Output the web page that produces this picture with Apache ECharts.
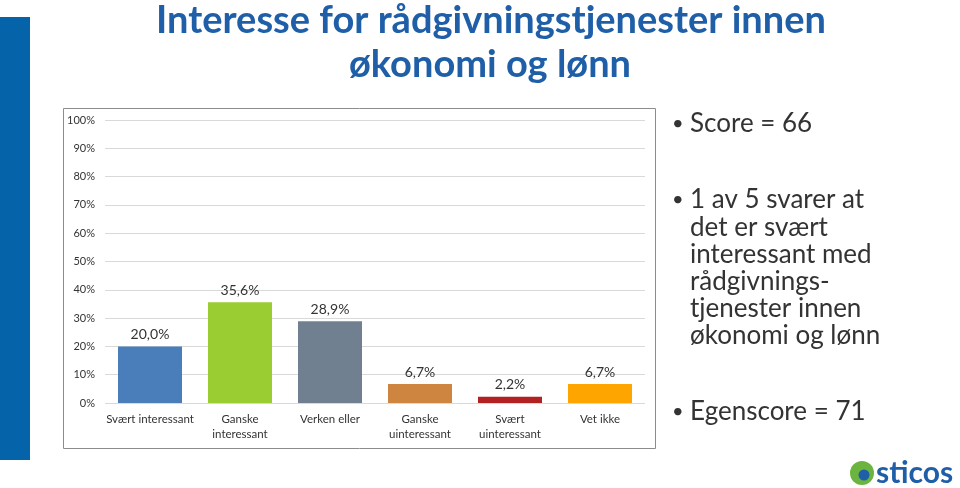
<!DOCTYPE html>
<html><head><meta charset="utf-8">
<script src="https://cdn.jsdelivr.net/npm/echarts@6/dist/echarts.min.js"></script>
<style>html,body{margin:0;padding:0;background:#fff}#c{width:960px;height:488px}</style>
</head><body><div id="c"></div>
<script>
const categories = ['Svært interessant', 'Ganske\ninteressant', 'Verken eller', 'Ganske\nuinteressant', 'Svært\nuinteressant', 'Vet ikke'];
const values = [20.0, 35.6, 28.9, 6.7, 2.2, 6.7];
const barColors = ['#4A7EBB', '#9ACD32', '#708090', '#CD853F', '#B22222', '#FFA500'];
const titleLines = ['Interesse for rådgivningstjenester innen', 'økonomi og lønn'];
const bulletLines = [
  ['Score = 66'],
  ['1 av 5 svarer at', 'det er svært', 'interessant med', 'rådgivnings-', 'tjenester innen', 'økonomi og lønn'],
  ['Egenscore = 71']
];

const chart = echarts.init(document.getElementById('c'));
const font = 'Lato, "Open Sans", sans-serif';
const graphics = [
  {type:'rect', shape:{x:0,y:17,width:30,height:443}, style:{fill:'#0563AA'}},
  {type:'rect', shape:{x:63.5,y:108.5,width:592,height:340}, style:{fill:'none',stroke:'#8c8c8c',lineWidth:1}},
  {type:'text', x:491, y:21, style:{text:titleLines[0], font:'bold 38px '+font, fill:'#1F5FA8', align:'center', verticalAlign:'middle'}},
  {type:'text', x:490, y:65, style:{text:titleLines[1], font:'bold 38px '+font, fill:'#1F5FA8', align:'center', verticalAlign:'middle'}}
];
const groupY = [124, 200, 412];
bulletLines.forEach((lines, gi) => {
  graphics.push({type:'text', x:672, y:groupY[gi], style:{text:'•', font:'20px '+font, fill:'#333', verticalAlign:'middle'}});
  lines.forEach((t, li) => {
    graphics.push({type:'text', x:690, y:groupY[gi] + li*27.2, style:{text:t, font:'26px '+font, fill:'#333', verticalAlign:'middle'}});
  });
});
// logo
graphics.push({type:'circle', shape:{cx:862,cy:473,r:12}, style:{fill:'#6BB43F'}});
graphics.push({type:'circle', shape:{cx:864,cy:475,r:5.5}, style:{fill:'#1F5FA8'}});
graphics.push({type:'text', x:876, y:473, style:{text:'sticos', font:'bold 30px '+font, fill:'#1F5FA8', verticalAlign:'middle'}});

chart.setOption({
  animation:false,
  grid:{left:105, right:315, top:120, bottom:85},
  xAxis:{type:'category', data:categories,
    axisLine:{show:false}, axisTick:{show:false},
    axisLabel:{color:'#333', fontSize:11.5, fontFamily:font, margin:9, lineHeight:15, interval:0}},
  yAxis:{type:'value', min:0, max:100, interval:10,
    axisLabel:{formatter:'{value}%', color:'#333', fontSize:11, fontFamily:font, margin:10},
    splitLine:{lineStyle:{color:'#d9d9d9'}}},
  series:[{type:'bar', barWidth:64,
    data: values.map((v,i)=>({value:v, itemStyle:{color:barColors[i]}})),
    label:{show:true, position:'top', distance:5, color:'#333', fontSize:14, fontFamily:font,
      formatter:p=>p.value.toFixed(1).replace('.',',')+'%'}}],
  graphic:graphics
});
</script></body></html>
